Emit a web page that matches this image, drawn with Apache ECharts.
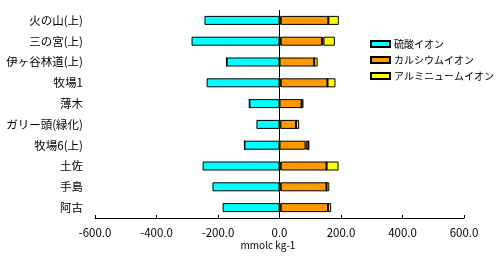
<!DOCTYPE html>
<html>
<head>
<meta charset="utf-8">
<script src="https://cdn.jsdelivr.net/npm/echarts@6/dist/echarts.min.js"></script>
<style>
html,body{margin:0;padding:0;background:#fff;}
#chart{width:500px;height:266px;}
</style>
</head>
<body>
<div id="chart"></div>
<script>
const categories = ['火の山(上)','三の宮(上)','伊ヶ谷林道(上)','牧場1','薄木','ガリー頭(緑化)','牧場6(上)','土佐','手島','阿古'];
const sulfate   = [-244,-286,-172,-237,-98,-75,-114,-250,-218,-185];
const otherLow  = [4,4,0,4,0,3,0,4,4,4];
const calcium   = [155,134,113,152,72,51,85,149,149,154];
const otherMid  = [0,5,0,0,0,0,10,0,0,0];
const aluminium = [34,37,11,26,6,10,0,39,9,10];
const xTicks = [-600,-400,-200,0,200,400,600];
const axisTitle = 'mmolc kg-1';

const font = "'Noto Sans CJK JP', 'Noto Sans', sans-serif";
const chart = echarts.init(document.getElementById('chart'), null, {renderer:'canvas'});
const border = {borderColor:'#000', borderWidth:1};
function bar(name, data, color, extra) {
  return Object.assign({
    name, type:'bar', stack:'s', data, barWidth:9,
    itemStyle: Object.assign({color}, border)
  }, extra || {});
}
chart.setOption({
  animation:false,
  backgroundColor:'#fff',
  textStyle:{fontFamily:font, color:'#000'},
  grid:{left:95, right:36, top:10, height:208},
  legend:{
    orient:'vertical', left:365, top:34,
    data:['硫酸イオン','カルシウムイオン','アルミニュームイオン'],
    itemWidth:19, itemHeight:6, itemGap:6, icon:'rect',
    textStyle:{fontSize:10, fontFamily:font, color:'#000', padding:[0,0,0,-1]}
  },
  xAxis:{
    type:'value', min:xTicks[0], max:xTicks[xTicks.length-1], interval:200,
    axisLine:{show:true, onZero:false, lineStyle:{color:'#000'}},
    axisTick:{show:true, inside:true, length:3, lineStyle:{color:'#000'}},
    splitLine:{show:false},
    axisLabel:{formatter:v=>v.toFixed(1), color:'#000', fontSize:11.5, fontFamily:font, margin:9}
  },
  yAxis:{
    type:'category', data:categories, inverse:true,
    axisLine:{show:false}, axisTick:{show:false},
    axisLabel:{color:'#000', fontSize:11.5, fontFamily:font, margin:12}
  },
  graphic:[{
    type:'text', x:268, y:240,
    style:{text:axisTitle, fontSize:10, fontFamily:font, fill:'#000', align:'center', verticalAlign:'top'}
  }],
  series:[
    bar('硫酸イオン', sulfate, '#00FFFF', {
      markLine:{
        silent:true, symbol:'none', label:{show:false},
        lineStyle:{color:'#000', width:1, type:'solid'},
        data:[{xAxis:0}]
      }
    }),
    bar('その他1', otherLow, '#000000'),
    bar('カルシウムイオン', calcium, '#FF9900'),
    bar('その他2', otherMid, '#CC3399'),
    bar('アルミニュームイオン', aluminium, '#FFFF00')
  ]
});
</script>
</body>
</html>
